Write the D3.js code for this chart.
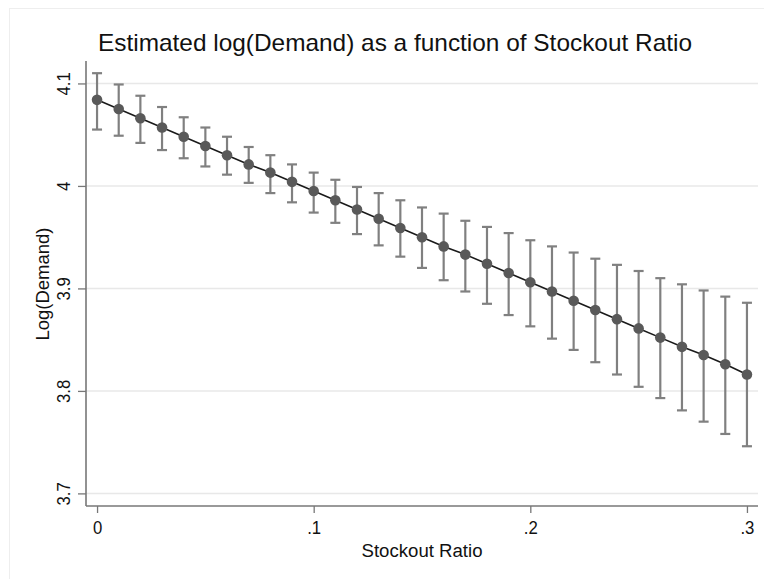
<!DOCTYPE html>
<html><head><meta charset="utf-8">
<script src="https://cdn.jsdelivr.net/npm/d3@7"></script>
<style>body{margin:0;background:#fff}svg{display:block}text{font-family:"Liberation Sans",Arial,sans-serif;fill:#111}</style>
</head><body><svg id="c" width="764" height="579"></svg>
<script>
const stockout = [0,0.01,0.02,0.03,0.04,0.05,0.06,0.07,0.08,0.09,0.10,0.11,0.12,0.13,0.14,0.15,0.16,0.17,0.18,0.19,0.20,0.21,0.22,0.23,0.24,0.25,0.26,0.27,0.28,0.29,0.30];
const estimate = [4.084,4.075,4.066,4.057,4.048,4.039,4.030,4.021,4.013,4.004,3.995,3.986,3.977,3.968,3.959,3.950,3.941,3.933,3.924,3.915,3.906,3.897,3.888,3.879,3.870,3.861,3.852,3.843,3.835,3.826,3.816];
const lower = [4.055,4.049,4.042,4.035,4.027,4.019,4.011,4.003,3.993,3.984,3.974,3.964,3.953,3.942,3.931,3.920,3.908,3.897,3.885,3.874,3.863,3.851,3.840,3.828,3.816,3.804,3.793,3.781,3.770,3.758,3.746];
const upper = [4.110,4.099,4.088,4.077,4.067,4.057,4.048,4.038,4.030,4.021,4.013,4.006,3.999,3.993,3.986,3.979,3.973,3.966,3.960,3.954,3.947,3.941,3.935,3.929,3.923,3.917,3.910,3.904,3.898,3.892,3.886];
const xTicks = [0,0.1,0.2,0.3];
const xTickLabels = ["0",".1",".2",".3"];
const yTicks = [3.7,3.8,3.9,4.0,4.1];
const yTickLabels = ["3.7","3.8","3.9","4","4.1"];
const title = "Estimated log(Demand) as a function of Stockout Ratio";
const xTitle = "Stockout Ratio";
const yTitle = "Log(Demand)";

const svg = d3.select("#c");
const L = 86, R = 758, T = 61, B = 506;
const x = d3.scaleLinear().domain([-0.0051, 0.3051]).range([L, R]);
const y = d3.scaleLinear().domain([3.6877, 4.1219]).range([B, T]);

function condense(sel, f) {
  sel.each(function(){ const n=this; const w=n.getComputedTextLength(); n.setAttribute("textLength", (w*f).toFixed(1)); n.setAttribute("lengthAdjust","spacingAndGlyphs"); });
}

// outer faint frame
svg.append("rect").attr("x",9.5).attr("y",8.5).attr("width",800).attr("height",600)
  .attr("fill","none").attr("stroke","#eeeeee").attr("stroke-width",1);

// gridlines
svg.append("g").selectAll("line").data(yTicks).join("line")
  .attr("x1",L).attr("x2",R).attr("y1",d=>y(d)).attr("y2",d=>y(d))
  .attr("stroke","#e8e8e8").attr("stroke-width",1.5);

// axes
const yAxis = d3.axisLeft(y).tickValues(yTicks).tickFormat((d,i)=>yTickLabels[i]).tickSize(8).tickPadding(0);
const gy = svg.append("g").attr("transform",`translate(${L},0)`).call(yAxis);
gy.attr("font-size",19).attr("font-family",null);
gy.select(".domain").attr("stroke","#777").attr("stroke-width",1.6).attr("d",`M0,${T}V${B}`);
gy.selectAll(".tick line").attr("stroke","#777").attr("stroke-width",1.3);
gy.selectAll(".tick text").attr("x",0).attr("y",0)
  .attr("font-size",19).attr("text-anchor","middle").attr("dy",null)
  .attr("transform","translate(-16,0) rotate(-90)").style("fill","#111").call(condense,0.88);

const xAxis = d3.axisBottom(x).tickValues(xTicks).tickFormat((d,i)=>xTickLabels[i]).tickSize(7).tickPadding(8);
const gx = svg.append("g").attr("transform",`translate(0,${B})`).call(xAxis);
gx.attr("font-size",19).attr("font-family",null);
gx.select(".domain").attr("stroke","#777").attr("stroke-width",1.6).attr("d",`M${L},0H${R}`);
gx.selectAll(".tick line").attr("stroke","#777").attr("stroke-width",1.3);
gx.selectAll(".tick text").attr("font-size",19).style("fill","#111").call(condense,0.88);

// error bars
const idx = d3.range(stockout.length);
const eb = svg.append("g").attr("stroke","#808080").attr("stroke-width",2.2).attr("fill","none");
eb.selectAll("line.v").data(idx).join("line").attr("class","v")
  .attr("x1",i=>x(stockout[i])).attr("x2",i=>x(stockout[i]))
  .attr("y1",i=>y(lower[i])).attr("y2",i=>y(upper[i]));
eb.selectAll("line.u").data(idx).join("line").attr("class","u")
  .attr("x1",i=>x(stockout[i])-5).attr("x2",i=>x(stockout[i])+5)
  .attr("y1",i=>y(upper[i])).attr("y2",i=>y(upper[i]));
eb.selectAll("line.l").data(idx).join("line").attr("class","l")
  .attr("x1",i=>x(stockout[i])-5).attr("x2",i=>x(stockout[i])+5)
  .attr("y1",i=>y(lower[i])).attr("y2",i=>y(lower[i]));

// line
svg.append("path").datum(idx)
  .attr("d",d3.line().x(i=>x(stockout[i])).y(i=>y(estimate[i])))
  .attr("fill","none").attr("stroke","#1a1a1a").attr("stroke-width",1.6);

// markers
svg.append("g").selectAll("circle").data(idx).join("circle")
  .attr("cx",i=>x(stockout[i])).attr("cy",i=>y(estimate[i])).attr("r",5.3)
  .attr("fill","#595959");

// titles
svg.append("text").attr("x",395).attr("y",51).attr("text-anchor","middle")
  .attr("font-size",24).attr("textLength",594).attr("lengthAdjust","spacingAndGlyphs").text(title);
svg.append("text").attr("x",422).attr("y",557).attr("text-anchor","middle")
  .attr("font-size",18).attr("textLength",121).attr("lengthAdjust","spacingAndGlyphs").text(xTitle);
svg.append("text").attr("transform","translate(49,284) rotate(-90)").attr("text-anchor","middle")
  .attr("font-size",18).attr("textLength",113).attr("lengthAdjust","spacingAndGlyphs").text(yTitle);
</script></body></html>
